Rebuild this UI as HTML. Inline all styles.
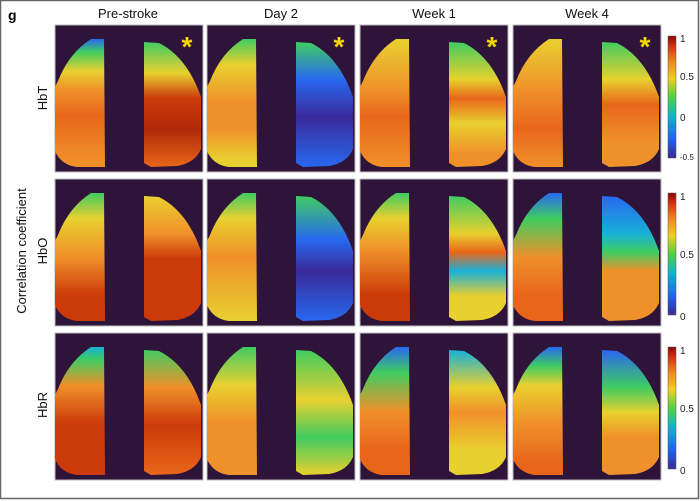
<!DOCTYPE html>
<html><head><meta charset="utf-8"><style>
body{margin:0;background:#fff;}
#w{position:relative;width:700px;height:501px;overflow:hidden;font-family:"Liberation Sans",sans-serif;}
</style></head><body><div id="w">
<svg id="s" width="700" height="501" viewBox="0 0 700 501" xmlns="http://www.w3.org/2000/svg">
<rect x="0.5" y="0.5" width="698" height="498" fill="#fff" stroke="#666" stroke-width="1.5"/>
<defs>
<linearGradient id="cb" x1="0" y1="1" x2="0" y2="0">
<stop offset="0" stop-color="#3a2a8f"/><stop offset="0.15" stop-color="#2060f0"/><stop offset="0.35" stop-color="#10b8c8"/><stop offset="0.5" stop-color="#50d040"/><stop offset="0.65" stop-color="#f0d020"/><stop offset="0.8" stop-color="#f08020"/><stop offset="0.92" stop-color="#d03010"/><stop offset="1" stop-color="#8a0808"/>
</linearGradient>
</defs>
<g id="panels"></g>
<text x="8" y="20" font-size="14" font-weight="bold" fill="#000">g</text>
<text x="128" y="18" font-size="13" text-anchor="middle" fill="#111">Pre-stroke</text>
<text x="281" y="18" font-size="13" text-anchor="middle" fill="#111">Day 2</text>
<text x="434" y="18" font-size="13" text-anchor="middle" fill="#111">Week 1</text>
<text x="587" y="18" font-size="13" text-anchor="middle" fill="#111">Week 4</text>
<text transform="translate(47,98) rotate(-90)" font-size="13" text-anchor="middle" fill="#111">HbT</text>
<text transform="translate(47,251) rotate(-90)" font-size="13" text-anchor="middle" fill="#111">HbO</text>
<text transform="translate(47,405) rotate(-90)" font-size="13" text-anchor="middle" fill="#111">HbR</text>
<text transform="translate(26,251) rotate(-90)" font-size="13" text-anchor="middle" fill="#111">Correlation coefficient</text>
<rect x="668" y="36" width="8" height="122" fill="url(#cb)" stroke="#555" stroke-width="0.5"/>
<rect x="668" y="193" width="8" height="122" fill="url(#cb)" stroke="#555" stroke-width="0.5"/>
<rect x="668" y="347" width="8" height="122" fill="url(#cb)" stroke="#555" stroke-width="0.5"/>
<g font-size="10" fill="#222">
<text x="680" y="42">1</text><text x="680" y="80">0.5</text><text x="680" y="121">0</text><text x="680" y="160" font-size="8">-0.5</text>
<text x="680" y="200">1</text><text x="680" y="258">0.5</text><text x="680" y="320">0</text>
<text x="680" y="354">1</text><text x="680" y="412">0.5</text><text x="680" y="474">0</text>
</g>
</svg>
<script>
const C={b:"#2868f0",db:"#3a2a9a",c:"#18b0d8",g:"#40cc60",y:"#e8d030",o:"#f0902a",ro:"#e8661a",r:"#cc3a0a",dr:"#b02a08"};
const data=[
[["b .0,g .1,y .25,o .4,ro .6,o .95","g 0,y .25,r .45,dr .7,ro 1"],["g 0,y .2,o .5,o .7,y .95","g 0,b .3,db .6,b 1"],["y 0,o .4,ro .6,o 1","g 0,y .3,ro .45,y .65,o .9"],["y 0,o .4,ro .7,o 1","g 0,y .3,ro .5,o .8"]],
[["g 0,y .2,o .5,r .8","y 0,o .3,r .5,r .9"],["g 0,y .2,o .5,y 1","g 0,b .35,db .6,b 1"],["g 0,y .2,o .45,r .8","g 0,y .3,ro .45,c .6,y .8"],["b 0,g .2,o .5,ro .8","b 0,c .3,g .45,o .6,o .9"]],
[["c 0,g .1,o .3,r .6","g 0,o .3,r .6,ro 1"],["g 0,y .3,o .6,o 1","g 0,y .4,g .7,y 1"],["b 0,g .2,o .5,ro .8","c 0,y .3,o .5,y .8"],["b 0,g .15,y .3,o .6,ro .9","b 0,g .3,y .5,o .7"]]
];
const cx=[55,207,360,513],ry=[25,179,333],W=148,H=147;
let h="",defs="";let n=0;
function grad(s){const id="g"+(n++);let st=s.split(",").map(t=>{const[k,o]=t.trim().split(" ");return `<stop offset="${o}" stop-color="${C[k]}"/>`}).join("");defs+=`<linearGradient id="${id}" x1="0" y1="0" x2="0" y2="1">${st}</linearGradient>`;return id;}
for(let r=0;r<3;r++)for(let c=0;c<4;c++){const x=cx[c],y=ry[r];
h+=`<rect x="${x}" y="${y}" width="${W}" height="${H}" fill="#2e1438" stroke="#bbb" stroke-width="1"/>`;
const gl=grad(data[r][c][0]),gr=grad(data[r][c][1]);
h+=`<path transform="translate(${x},${y})" d="M49,14 L36,14 Q14,28 3,56 L0,62 L0,126 Q6,140 22,142 L50,142 Z" fill="url(#${gl})"/>`;
h+=`<path transform="translate(${x},${y})" d="M89,17 L104,18 Q132,32 146,72 L146,124 Q140,138 122,141 L96,142 L89,138 Z" fill="url(#${gr})"/>`;
if(r==0)h+=`<text x="${x+132}" y="${y+31}" font-size="28" font-weight="bold" fill="#f5d800" text-anchor="middle">*</text>`;}
const s=document.getElementById("s");s.querySelector("defs").innerHTML+=defs;document.getElementById("panels").innerHTML=h;
</script>
</div></body></html>
